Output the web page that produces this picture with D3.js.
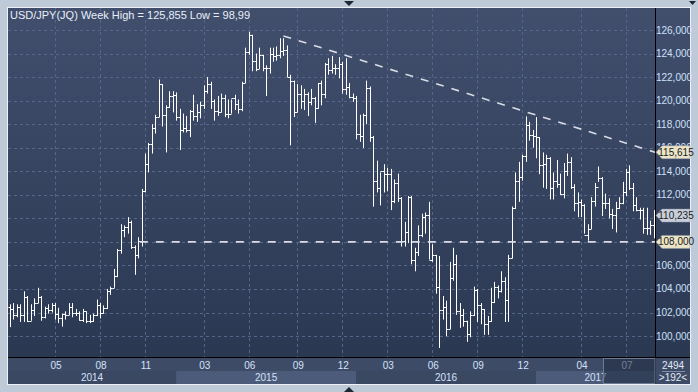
<!DOCTYPE html>
<html lang="en">
  <head>
    <title>USD/JPY Week</title>
    <script src="https://d3js.org/d3.v7.min.js"></script>
    <style>
      body
      {
        margin: 0;
        background: #bfcad9;
      }
      text
      {
        font-family: "Liberation Sans", Arial, sans-serif;
      }
      .grid line
      {
        stroke: #55668a;
        stroke-dasharray: 3,3;
        stroke-width: 1;
      }
      .bar
      {
        stroke: #ffffff;
        stroke-width: 1;
        fill: none;
      }
    </style>
  </head>
  <body>
    <svg width="698" height="392"></svg>

    <script>
      // weekly bars, first week starts 2014-02-03, one entry per week
      var opens = [
        102.5,102.3,101.8,102.5,101.8,103.3,101.3,102.2,102.8,103.3,101.6,102.4,102.2,
        102.6,101.9,101.5,101.9,101.8,102.5,102.0,102.0,101.4,102.1,101.3,101.3,101.8,
        102.6,102.0,102.4,103.8,104.1,105.1,107.3,109.0,109.3,109.7,107.6,106.9,108.1,
        112.3,114.6,116.3,117.7,118.6,121.4,118.8,119.5,120.4,
        120.5,118.6,117.5,117.7,117.5,119.1,118.7,119.0,119.6,120.8,121.4,120.0,119.1,
        119.0,120.2,118.9,118.9,120.2,119.7,119.3,121.5,124.1,125.6,123.4,122.7,123.9,
        122.8,122.8,124.0,123.8,123.9,124.2,124.3,122.0,121.7,119.0,120.6,120.0,120.6,
        119.9,120.2,119.4,121.5,120.6,123.1,122.6,122.8,122.8,123.1,121.0,121.2,120.3,
        120.2,117.2,117.0,118.8,121.1,116.9,113.2,112.6,114.0,113.8,113.8,111.5,113.0,
        111.7,108.1,108.8,111.8,106.5,107.1,108.6,110.1,110.3,106.5,106.9,104.2,102.2,
        102.5,100.6,104.9,106.1,102.1,101.8,101.3,100.2,101.8,103.9,102.6,102.3,101.0,
        101.3,102.9,104.2,103.8,104.7,103.1,106.6,110.9,113.2,113.5,115.3,117.9,117.1,
        117.0,116.9,114.5,114.6,115.1,112.6,113.2,112.9,112.1,114.0,114.8,112.7,111.3,
        111.4,111.1,108.6,109.1,111.5,112.7,113.4,111.3,111.3,110.4,110.3,110.9,111.3,
        112.2,113.9,112.6,111.1,110.7,110.7,109.2,109.2,109.4
      ];
      var highs = [
        102.7,102.8,102.7,102.7,103.8,103.4,102.7,103.2,104.1,103.4,102.5,102.7,102.8,
        102.8,102.4,101.9,102.1,102.8,102.8,102.3,102.1,102.3,102.1,101.8,101.9,103.1,
        102.8,102.6,104.0,104.2,105.7,107.4,109.5,109.4,110.1,109.8,107.7,108.4,112.5,
        115.5,116.4,118.0,118.8,121.8,121.4,119.6,120.8,120.8,
        120.7,119.3,118.9,118.7,119.2,120.5,119.7,119.9,121.3,122.0,121.6,120.1,120.4,
        120.6,120.5,120.1,120.1,120.5,120.1,121.6,124.5,125.86,125.6,124.0,124.5,123.9,
        123.0,124.5,124.5,124.6,125.3,125.3,124.7,122.2,121.7,121.4,121.3,121.0,120.7,
        121.0,120.3,121.5,121.7,123.2,123.6,123.8,123.1,123.7,123.3,123.6,121.5,120.6,
        120.4,118.8,118.9,121.7,121.2,117.0,114.9,113.9,114.6,114.3,114.2,113.3,113.8,
        111.8,109.7,111.9,111.9,107.5,109.4,110.4,110.5,111.4,107.8,106.9,106.8,103.4,
        103.0,106.3,107.5,106.9,102.8,102.3,101.3,102.1,104.2,104.0,102.8,102.3,101.7,
        104.1,104.6,104.3,105.5,105.0,106.9,111.0,113.9,114.8,115.4,118.66,118.2,117.5,
        118.6,116.9,115.6,115.4,115.2,113.9,114.95,113.8,114.7,115.5,115.2,112.9,112.2,
        111.6,111.2,109.5,111.8,113.0,114.4,113.5,112.1,111.7,110.8,111.4,111.8,113.1,
        114.2,114.5,113.0,111.8,110.9,110.9,110.9,109.8,110.7
      ];
      var lows = [
        100.76,101.4,101.6,101.2,101.2,101.2,101.3,101.7,102.8,101.3,101.5,101.9,102.0,
        101.4,101.1,100.8,101.4,101.8,101.6,101.7,101.3,101.2,101.1,101.1,101.2,101.7,
        101.5,101.9,102.3,103.5,104.1,105.0,107.0,108.4,108.7,107.4,105.2,106.6,107.6,
        112.2,113.9,115.5,117.2,118.6,117.8,115.6,119.4,119.0,
        118.3,115.8,117.3,117.3,116.9,118.3,118.2,118.5,119.3,120.6,119.3,118.3,118.7,
        119.0,118.6,118.5,118.9,119.2,118.9,119.1,121.5,123.9,122.5,122.5,122.7,122.5,
        120.4,122.3,123.3,123.4,123.6,123.8,122.0,116.2,118.6,119.0,119.3,119.2,118.7,
        119.6,118.1,119.3,119.6,120.2,122.2,122.3,122.2,121.9,120.6,120.5,120.2,119.9,
        116.7,116.5,115.98,118.0,116.5,110.99,112.2,111.1,112.2,112.3,110.7,111.3,111.4,
        107.6,107.6,107.9,106.1,105.5,106.8,108.4,108.7,106.5,106.3,103.6,98.99,101.4,
        99.98,100.6,104.7,101.8,100.7,100.8,99.5,99.9,101.7,101.2,101.0,100.1,100.1,
        101.2,102.8,103.2,103.7,101.2,101.2,106.6,110.8,111.4,113.2,114.8,116.6,116.0,
        115.1,113.75,112.6,112.5,111.6,111.6,112.6,112.0,111.7,113.6,112.5,110.6,110.1,
        110.1,108.7,108.1,109.1,111.0,113.1,110.2,110.8,110.0,109.1,108.8,110.8,111.2,
        111.9,112.4,110.6,110.6,109.9,108.7,108.6,108.6,108.3
      ];
      var closes = [
        102.3,101.8,102.5,101.8,103.3,101.3,102.2,102.8,103.3,101.6,102.4,102.2,102.6,
        101.9,101.5,101.9,101.8,102.5,102.0,102.0,101.4,102.1,101.3,101.3,101.8,102.6,
        102.0,102.4,103.8,104.1,105.1,107.3,109.0,109.3,109.7,107.6,106.9,108.1,112.3,
        114.6,116.3,117.7,118.6,121.4,118.8,119.5,120.4,120.5,
        118.6,117.5,117.7,117.5,119.1,118.7,119.0,119.6,120.8,121.4,120.0,119.1,119.0,
        120.2,118.9,118.9,120.2,119.7,119.3,121.5,124.1,125.6,123.4,122.7,123.9,122.8,
        122.8,124.0,123.8,123.9,124.2,124.3,122.0,121.7,119.0,120.6,120.0,120.6,119.9,
        120.2,119.4,121.5,120.6,123.1,122.6,122.8,122.8,123.1,121.0,121.2,120.3,120.2,
        117.2,117.0,118.8,121.1,116.9,113.2,112.6,114.0,113.8,113.8,111.5,113.0,111.7,
        108.1,108.8,111.8,106.5,107.1,108.6,110.1,110.3,106.5,106.9,104.2,102.2,102.5,
        100.6,104.9,106.1,102.1,101.8,101.3,100.2,101.8,103.9,102.6,102.3,101.0,101.3,
        102.9,104.2,103.8,104.7,103.1,106.6,110.9,113.2,113.5,115.3,117.9,117.1,117.0,
        116.9,114.5,114.6,115.1,112.6,113.2,112.9,112.1,114.0,114.8,112.7,111.3,111.4,
        111.1,108.6,109.1,111.5,112.7,113.4,111.3,111.3,110.4,110.3,110.9,111.3,112.2,
        113.9,112.6,111.1,110.7,110.7,109.2,109.2,109.4,110.235
      ];

      // month ticks: label and index of the first week of that month
      var monthLabels = ["05","08","11","03","06","09","12","03","06","09","12","04","07"];
      var monthWeeks  = [13, 26, 39, 56, 69, 83, 96, 109, 122, 135, 148, 165, 178];
      var yearLabels  = ["2014","2015","2016","2017"];
      var yearWeeks   = [-0.58, 48, 100, 152, 186.38];

      // price grid; labels under the 108 and 110 tags are hidden in the original
      var priceTicks  = d3.range(100, 127, 2);
      var priceLabels = [100, 102, 104, 106, 112, 114, 116, 118, 120, 122, 124, 126];

      // drawn lines: dashed resistance and support
      var trendWeeks  = [79, 186.38];
      var trendValues = [125.5, 115.615];
      var supportWeeks  = [37.5, 186.38];
      var supportValues = [108.0, 108.0];

      // price tags on the right axis
      var tagValues = [115.615, 110.235, 108.0];
      var tagFills  = ["#ebe4c6", "#c9cfda", "#ebe4c6"];

      var title = "USD/JPY(JQ) Week High = 125,855 Low = 98,99";

      var svg = d3.select("svg");
      var plot = {left: 8, right: 655, top: 8, bottom: 357};

      var x = d3.scaleLinear().domain([-0.58, 186.38]).range([plot.left, plot.right]);
      var y = d3.scaleLinear().domain([98.22, 127.87]).range([plot.bottom, plot.top]);
      var fmt = function(v){ return d3.format(".3f")(v).replace(".", ","); };

      var defs = svg.append("defs");
      var grad = defs.append("linearGradient").attr("id", "bg")
                     .attr("x1", 0).attr("y1", 0).attr("x2", 0).attr("y2", 1);
      grad.append("stop").attr("offset", 0).attr("stop-color", "#414f6d");
      grad.append("stop").attr("offset", 1).attr("stop-color", "#2b3852");
      defs.append("clipPath").attr("id", "clip").append("rect")
          .attr("x", plot.left).attr("y", plot.top)
          .attr("width", plot.right - plot.left).attr("height", plot.bottom - plot.top);
      // the top of the 116 label peeks out above the 115,615 tag
      defs.append("clipPath").attr("id", "peek").append("rect")
          .attr("x", 656).attr("y", 140).attr("width", 34).attr("height", 6);

      // outer frame
      svg.append("rect").attr("x", 7.5).attr("y", 7.5).attr("width", 683).attr("height", 377)
         .attr("fill", "none").attr("stroke", "#eef2f7");
      svg.append("rect").attr("x", 8).attr("y", 8).attr("width", 682).attr("height", 349)
         .attr("fill", "url(#bg)");

      // bottom axis background
      svg.append("rect").attr("x", 8).attr("y", 358).attr("width", 682).attr("height", 26)
         .attr("fill", "#3e4b66");
      svg.append("g").selectAll("rect").data(yearLabels).enter().append("rect")
         .attr("x", function(d, i){ return x(yearWeeks[i]); })
         .attr("y", 371)
         .attr("width", function(d, i){ return x(yearWeeks[i + 1]) - x(yearWeeks[i]); })
         .attr("height", 13)
         .attr("fill", function(d, i){ return i % 2 ? "#4c5b79" : "#3b4862"; });

      // grid
      var grid = svg.append("g").attr("class", "grid");
      grid.selectAll("line.h").data(priceTicks).enter().append("line").attr("class", "h")
          .attr("x1", plot.left).attr("x2", plot.right)
          .attr("y1", function(d){ return Math.round(y(d)) + 0.5; })
          .attr("y2", function(d){ return Math.round(y(d)) + 0.5; });
      grid.selectAll("line.v").data(monthWeeks).enter().append("line").attr("class", "v")
          .attr("y1", plot.top).attr("y2", plot.bottom)
          .attr("x1", function(d){ return Math.round(x(d)) + 0.5; })
          .attr("x2", function(d){ return Math.round(x(d)) + 0.5; });

      // OHLC bars
      var bars = svg.append("g").attr("clip-path", "url(#clip)").selectAll("g")
                    .data(d3.range(opens.length)).enter().append("g").attr("class", "bar");
      bars.append("line")
          .attr("x1", function(i){ return Math.round(x(i)) + 0.5; })
          .attr("x2", function(i){ return Math.round(x(i)) + 0.5; })
          .attr("y1", function(i){ return y(highs[i]); })
          .attr("y2", function(i){ return y(lows[i]); });
      bars.append("line")
          .attr("x1", function(i){ return Math.round(x(i)) - 1.5; })
          .attr("x2", function(i){ return Math.round(x(i)) + 0.5; })
          .attr("y1", function(i){ return Math.round(y(opens[i])) + 0.5; })
          .attr("y2", function(i){ return Math.round(y(opens[i])) + 0.5; });
      bars.append("line")
          .attr("x1", function(i){ return Math.round(x(i)) + 0.5; })
          .attr("x2", function(i){ return Math.round(x(i)) + 2.5; })
          .attr("y1", function(i){ return Math.round(y(closes[i])) + 0.5; })
          .attr("y2", function(i){ return Math.round(y(closes[i])) + 0.5; });

      // dashed drawing lines
      var dash = d3.line().x(function(d){ return x(d[0]); }).y(function(d){ return y(d[1]); });
      svg.append("path").datum(d3.zip(trendWeeks, trendValues)).attr("d", dash)
         .attr("fill", "none").attr("stroke", "#d9dbe6").attr("stroke-width", 1.6)
         .attr("stroke-dasharray", "8,8");
      svg.append("path").datum(d3.zip(supportWeeks, supportValues)).attr("d", dash)
         .attr("fill", "none").attr("stroke", "#d9dbe6").attr("stroke-width", 1.6)
         .attr("stroke-dasharray", "8,8");

      // separators
      svg.append("line").attr("x1", 655.5).attr("x2", 655.5).attr("y1", 8).attr("y2", 384)
         .attr("stroke", "#000");
      svg.append("line").attr("x1", 8).attr("x2", 690).attr("y1", 357.5).attr("y2", 357.5)
         .attr("stroke", "#000");

      // title
      svg.append("text").attr("x", 10).attr("y", 19).attr("fill", "#e8eef8")
         .attr("font-size", "11px").text(title);

      // right axis labels
      svg.append("g").selectAll("text").data(priceLabels).enter().append("text")
         .attr("x", 674).attr("y", function(d){ return y(d) + 3.5; })
         .attr("text-anchor", "middle").attr("font-size", "10px").attr("fill", "#cfe0fa")
         .attr("clip-path", function(d){ return d === 116 ? "url(#peek)" : null; })
         .text(fmt);

      // price tags
      var tags = svg.append("g").selectAll("g").data(tagValues).enter().append("g")
                    .attr("transform", function(d){ return "translate(0," + y(d) + ")"; });
      tags.append("path")
          .attr("d", "M656,0 L662,-6.5 L690,-6.5 L690,6.5 L662,6.5 Z")
          .attr("fill", function(d, i){ return tagFills[i]; })
          .attr("stroke", "#8a93a4").attr("stroke-width", 0.5);
      tags.append("text").attr("x", 676).attr("y", 3.5).attr("text-anchor", "middle")
          .attr("font-size", "10px").attr("fill", "#1c1c1c").text(fmt);

      // bottom axis labels
      svg.append("g").selectAll("text").data(monthLabels).enter().append("text")
         .attr("x", function(d, i){ return x(monthWeeks[i]) + 1; }).attr("y", 368.5)
         .attr("text-anchor", "middle").attr("font-size", "10px").attr("fill", "#d3e2fa")
         .text(function(d){ return d; });
      svg.append("g").selectAll("text").data(yearLabels).enter().append("text")
         .attr("x", function(d, i){ return (x(yearWeeks[i]) + x(yearWeeks[i + 1])) / 2; })
         .attr("y", 380.5)
         .attr("text-anchor", "middle").attr("font-size", "10px").attr("fill", "#d3e2fa")
         .text(function(d){ return d; });

      // scroll window overlay
      svg.append("rect").attr("x", 603.5).attr("y", 358.5).attr("width", 51.5).attr("height", 25)
         .attr("fill", "#1f2a40").attr("fill-opacity", 0.55)
         .attr("stroke", "#6d7c96").attr("stroke-width", 1);

      // corner cell
      svg.append("rect").attr("x", 656).attr("y", 358).attr("width", 34).attr("height", 26)
         .attr("fill", "#3e4b66");
      svg.append("text").attr("x", 673).attr("y", 369).attr("text-anchor", "middle")
         .attr("font-size", "10px").attr("fill", "#e2eaf6").text("2494");
      svg.append("line").attr("x1", 662).attr("x2", 685).attr("y1", 371.5).attr("y2", 371.5)
         .attr("stroke", "#7e8ca6");
      svg.append("text").attr("x", 673).attr("y", 381).attr("text-anchor", "middle")
         .attr("font-size", "10px").attr("fill", "#e2eaf6").text(">192<");

      // small markers on the frame
      svg.append("path").attr("d", "M344,1 L354,1 L349,6 Z").attr("fill", "#1e2633");
      svg.append("path").attr("d", "M344,392 L354,392 L349,387 Z").attr("fill", "#1e2633");
      svg.append("path").attr("d", "M689,1 L696,1 L692.5,5 Z").attr("fill", "#1e2633");
    </script>
  </body>
</html>
